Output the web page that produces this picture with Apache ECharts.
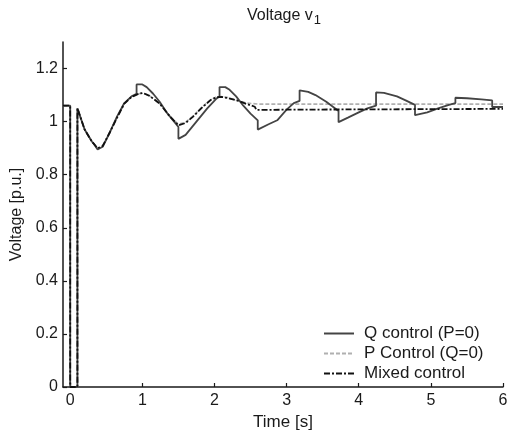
<!DOCTYPE html>
<html>
<head>
<meta charset="utf-8">
<script src="https://cdn.jsdelivr.net/npm/echarts@6/dist/echarts.min.js"></script>
<style>html,body{margin:0;padding:0;background:#fff}#c{width:509px;height:430px}</style>
</head>
<body>
<div id="c"></div>
<script>
// Q control (P=0)
var qTime = [-0.1, 0, 0, 0.1, 0.1, 0.2, 0.3, 0.33, 0.35, 0.38, 0.45, 0.55, 0.65, 0.75, 0.85, 0.92, 0.92, 1.0, 1.06, 1.15, 1.24, 1.35, 1.5, 1.5, 1.6, 1.75, 1.9, 2.02, 2.07, 2.07, 2.15, 2.21, 2.3, 2.4, 2.5, 2.6, 2.6, 2.75, 2.87, 3.0, 3.1, 3.18, 3.18, 3.3, 3.4, 3.55, 3.72, 3.72, 3.85, 4.0, 4.12, 4.24, 4.24, 4.35, 4.53, 4.65, 4.78, 4.78, 4.95, 5.1, 5.25, 5.34, 5.34, 5.5, 5.7, 5.85, 5.85, 6.0];
var qVolt = [1.06, 1.06, 0, 0, 1.05, 0.97, 0.925, 0.915, 0.91, 0.895, 0.905, 0.96, 1.02, 1.07, 1.095, 1.105, 1.14, 1.14, 1.13, 1.105, 1.075, 1.03, 0.98, 0.935, 0.95, 1.0, 1.05, 1.085, 1.095, 1.13, 1.13, 1.12, 1.095, 1.06, 1.03, 1.005, 0.97, 0.99, 1.005, 1.045, 1.07, 1.078, 1.118, 1.112, 1.1, 1.075, 1.04, 0.998, 1.015, 1.035, 1.05, 1.06, 1.11, 1.108, 1.095, 1.08, 1.063, 1.024, 1.035, 1.05, 1.063, 1.07, 1.09, 1.088, 1.084, 1.08, 1.055, 1.055];
// P Control (Q=0)
var pTime = [-0.1, 0, 0, 0.1, 0.1, 0.2, 0.3, 0.38, 0.45, 0.55, 0.65, 0.75, 0.85, 0.95, 1.01, 1.1, 1.24, 1.38, 1.5, 1.6, 1.7, 1.84, 1.95, 2.03, 2.1, 2.2, 2.31, 2.45, 2.6, 3.0, 4.0, 5.0, 6.0];
var pVolt = [1.06, 1.06, 0, 0, 1.05, 0.97, 0.925, 0.9, 0.908, 0.96, 1.015, 1.068, 1.093, 1.105, 1.108, 1.097, 1.068, 1.02, 0.99, 0.998, 1.02, 1.058, 1.083, 1.093, 1.094, 1.09, 1.08, 1.07, 1.066, 1.066, 1.066, 1.066, 1.066];
// Mixed control
var mTime = [-0.1, 0, 0, 0.1, 0.1, 0.2, 0.3, 0.38, 0.45, 0.55, 0.65, 0.75, 0.85, 0.95, 1.01, 1.1, 1.24, 1.38, 1.5, 1.6, 1.7, 1.84, 1.95, 2.03, 2.1, 2.2, 2.31, 2.45, 2.56, 2.58, 3.0, 4.0, 5.0, 6.0];
var mVolt = [1.06, 1.06, 0, 0, 1.05, 0.97, 0.925, 0.9, 0.908, 0.96, 1.015, 1.068, 1.093, 1.105, 1.108, 1.097, 1.068, 1.02, 0.986, 0.995, 1.018, 1.056, 1.082, 1.092, 1.093, 1.088, 1.08, 1.066, 1.056, 1.044, 1.045, 1.046, 1.047, 1.048];
var xTicks = [0, 1, 2, 3, 4, 5, 6];
var yTicks = [0, 0.2, 0.4, 0.6, 0.8, 1, 1.2];

function pairs(t, v) { return t.map(function (x, i) { return [x, v[i]]; }); }

var chart = echarts.init(document.getElementById('c'));
var font = 'Liberation Sans, Arial, sans-serif';
var ink = '#1a1a1a';
var axisCommon = {
  axisLine: { show: true, onZero: false, lineStyle: { color: ink, width: 1.5 } },
  axisTick: { show: true, inside: true, length: 4, lineStyle: { color: ink, width: 1.2 } },
  splitLine: { show: false }
};
chart.setOption({
  animation: false,
  backgroundColor: '#fff',
  title: {
    text: 'Voltage v{s|1}',
    left: 279, top: -1, textAlign: 'center',
    textStyle: {
      fontSize: 16, fontWeight: 'normal', color: ink, fontFamily: font,
      rich: { s: { fontSize: 13, color: ink, fontFamily: font, padding: [10, 0, 0, 1] } }
    }
  },
  legend: {
    orient: 'vertical', left: 323, top: 325, padding: 0, itemWidth: 30, itemHeight: 14, itemGap: 3,
    itemStyle: { opacity: 0 },
    textStyle: { fontSize: 17, color: ink, fontFamily: font, padding: [0, 0, 0, 5] },
    data: ['Q control (P=0)', 'P Control (Q=0)', 'Mixed control']
  },
  grid: { left: 63, right: 6, top: 42, bottom: 43, outerBoundsMode: 'none', containLabel: false },
  xAxis: Object.assign({}, axisCommon, {
    type: 'value', min: -0.1, max: 6,
    name: 'Time [s]', nameLocation: 'middle', nameGap: 24,
    nameTextStyle: { color: ink, fontSize: 17, fontFamily: font },
    axisTick: Object.assign({}, axisCommon.axisTick, { customValues: xTicks }),
    axisLabel: { customValues: xTicks, fontSize: 16, color: ink, fontFamily: font, margin: 6 }
  }),
  yAxis: Object.assign({}, axisCommon, {
    type: 'value', min: 0, max: 1.3,
    name: 'Voltage [p.u.]', nameLocation: 'middle', nameGap: 38,
    nameTextStyle: { color: ink, fontSize: 16, fontFamily: font },
    axisTick: Object.assign({}, axisCommon.axisTick, { customValues: yTicks }),
    axisLabel: { customValues: yTicks, fontSize: 16, color: ink, fontFamily: font, margin: 5 }
  }),
  series: [
    { name: 'Q control (P=0)', type: 'line', symbol: 'none', data: pairs(qTime, qVolt), z: 3,
      lineStyle: { color: '#444', width: 1.8, type: 'solid' }, itemStyle: { color: '#444' } },
    { name: 'P Control (Q=0)', type: 'line', symbol: 'none', data: pairs(pTime, pVolt), z: 2,
      lineStyle: { color: '#b0b0b0', width: 1.6, type: [4, 2] }, itemStyle: { color: '#b0b0b0' } },
    { name: 'Mixed control', type: 'line', symbol: 'none', data: pairs(mTime, mVolt), z: 4,
      lineStyle: { color: '#111', width: 1.8, type: [6, 2, 2, 2] }, itemStyle: { color: '#111' } }
  ]
});
</script>
</body>
</html>
